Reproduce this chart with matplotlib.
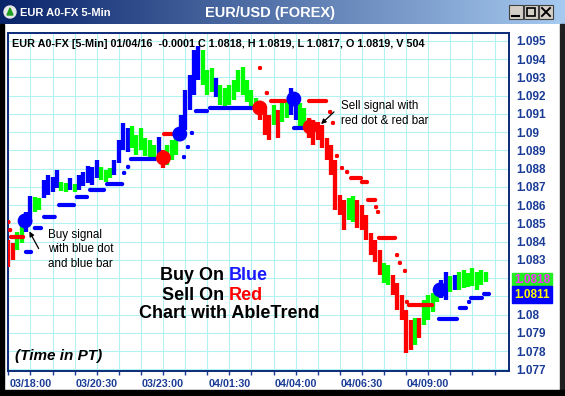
import numpy as np
import matplotlib.pyplot as plt
from matplotlib.colors import LinearSegmentedColormap
from matplotlib.patches import Rectangle, Circle, Polygon

plt.rcParams['font.family'] = ['Liberation Sans', 'DejaVu Sans']

# ---------- PRICE BARS (one entry per 10 minutes, x = 5-min bar index) ----------
bar_hi = [1.08410, 1.08393, 1.08453, 1.08492, 1.08563, 1.08651, 1.08645, 1.08640, 1.08738, 1.08766,
          1.08755, 1.08793, 1.08727, 1.08722, 1.08749, 1.08716, 1.08766, 1.08782, 1.08815, 1.08810,
          1.08848, 1.08810, 1.08793, 1.08804, 1.08848, 1.08958, 1.09051, 1.09023, 1.09034, 1.08985,
          1.09023, 1.08969, 1.08958, 1.08930, 1.08974, 1.08903, 1.08930, 1.08958, 1.08985, 1.09095,
          1.09232, 1.09314, 1.09451, 1.09473, 1.09451, 1.09341, 1.09352, 1.09297, 1.09259, 1.09242,
          1.09259, 1.09286, 1.09341, 1.09358, 1.09286, 1.09232, 1.09188, 1.09149, 1.09122, 1.09095,
          1.09149, 1.09122, 1.09160, 1.09177, 1.09242, 1.09215, 1.09160, 1.09133, 1.09078, 1.09067,
          1.09056, 1.09040, 1.08969, 1.08930, 1.08848, 1.08656, 1.08629, 1.08640, 1.08651, 1.08629,
          1.08601, 1.08547, 1.08448, 1.08410, 1.08355, 1.08284, 1.08273, 1.08218, 1.08174, 1.08108,
          1.08026, 1.07971, 1.07982, 1.07982, 1.08081, 1.08108, 1.08119, 1.08163, 1.08190, 1.08234,
          1.08212, 1.08218, 1.08234, 1.08245, 1.08229, 1.08256, 1.08234, 1.08245, 1.08234]
bar_lo = [1.08262, 1.08300, 1.08355, 1.08393, 1.08453, 1.08530, 1.08563, 1.08574, 1.08640, 1.08656,
          1.08673, 1.08695, 1.08678, 1.08673, 1.08684, 1.08673, 1.08684, 1.08705, 1.08722, 1.08711,
          1.08749, 1.08738, 1.08727, 1.08749, 1.08766, 1.08832, 1.08903, 1.08892, 1.08914, 1.08875,
          1.08903, 1.08870, 1.08859, 1.08848, 1.08837, 1.08804, 1.08821, 1.08848, 1.08875, 1.08958,
          1.09012, 1.09122, 1.09204, 1.09286, 1.09259, 1.09204, 1.09221, 1.09193, 1.09149, 1.09133,
          1.09149, 1.09177, 1.09221, 1.09204, 1.09166, 1.09138, 1.09122, 1.09067, 1.08985, 1.08958,
          1.09040, 1.08969, 1.09056, 1.09078, 1.09095, 1.09067, 1.09029, 1.09023, 1.08969, 1.08930,
          1.08958, 1.08914, 1.08848, 1.08766, 1.08574, 1.08547, 1.08464, 1.08519, 1.08508, 1.08475,
          1.08464, 1.08410, 1.08327, 1.08289, 1.08218, 1.08174, 1.08163, 1.08108, 1.08026, 1.07971,
          1.07791, 1.07807, 1.07834, 1.07873, 1.07944, 1.07971, 1.08015, 1.08070, 1.08092, 1.08081,
          1.08125, 1.08136, 1.08136, 1.08147, 1.08152, 1.08158, 1.08136, 1.08163, 1.08180]
bar_col = ("rrggbbggbb" "bbggbgbbbb" "bgggbbbbgg" "ggggbrgggb" "bbbbgggbgg"
           "gggggggrrr" "grggbbggrr" "rrrrrrrggr" "rrrrrggrrr" "rrgrggggbb" "gbggggggg")

# ---------- ABLETREND SIGNALS (big dots) ----------
sig_bar = [7.6, 70.2, 77.6, 113.8, 129.2, 136.6, 195.4]
sig_price = [1.08514, 1.08859, 1.08990, 1.09133, 1.09182, 1.09029, 1.08136]
sig_col = "brbrbrb"

# ---------- STOP DOTS (start bar, end bar, price) ----------
stop_start = [0, 0.8, 1.2, 8, 12, 16.2, 23, 31, 37, 44.7, 52.4, 54.2, 55.5, 70.5, 79.5, 81.3, 83.1,
              84.9, 91.3, 113.9, 117, 118.9, 129.3, 136.1, 145.6, 146.9, 148.7, 151, 153.3, 155.1,
              160, 162.8, 166.4, 167.3, 167.7, 175.9, 177.2, 179.5, 180.4, 181.3, 194.9, 204.3,
              208.5, 209.4, 215.3]
stop_end = [0, 0.8, 6.7, 10.3, 14.8, 21, 29.7, 35.6, 43.3, 51.5, 52.4, 54.2, 66.4, 75, 79.5, 81.3, 83.1,
            89.9, 110.3, 113.9, 117, 125.2, 133.3, 143.8, 145.6, 146.9, 148.7, 151, 153.3, 159.6,
            162.3, 166, 166.4, 167.3, 175, 175.9, 177.2, 179.5, 180.4, 191.7, 203, 207.1,
            208.5, 214.3, 217.5]
stop_price = [1.08508, 1.08464, 1.08426, 1.08344, 1.08475, 1.08536, 1.08601, 1.08645, 1.08684, 1.08716,
              1.08777, 1.08810, 1.08853, 1.08990, 1.08864, 1.08919, 1.08996, 1.09116, 1.09133,
              1.09352, 1.09215, 1.09171, 1.09023, 1.09171, 1.09111, 1.09051, 1.08870, 1.08804,
              1.08782, 1.08749, 1.08727, 1.08629, 1.08590, 1.08563, 1.08421, 1.08327, 1.08284,
              1.08240, 1.08070, 1.08053, 1.07977, 1.08037, 1.08070, 1.08092, 1.08114]
stop_col = "rrrbbbbbbbbbbrbbbbbrrrbrrrrrrrrrrrrrrrrrbbbbb"

# ---------- AXES LABELS ----------
x_minor = list(range(0, 221, 10))
x_major = [10, 40, 70, 100, 130, 160, 190]
x_labels = ["03/18:00", "03/20:30", "03/23:00", "04/01:30", "04/04:00", "04/06:30", "04/09:00"]
y_ticks = [1.077, 1.078, 1.079, 1.080, 1.081, 1.082, 1.083, 1.084, 1.085, 1.086,
           1.087, 1.088, 1.089, 1.090, 1.091, 1.092, 1.093, 1.094, 1.095]
y_labels = ["1.077", "1.078", "1.079", "1.08", "", "", "1.083", "1.084", "1.085", "1.086",
            "1.087", "1.088", "1.089", "1.09", "1.091", "1.092", "1.093", "1.094", "1.095"]

colors = {"b": "#0000ff", "g": "#00ff00", "r": "#ff0000"}
navy = "#1a3c96"

fig = plt.figure(figsize=(5.65, 3.96), dpi=100)
fig.patch.set_facecolor("white")

# window chrome in pixel coordinates
bg = fig.add_axes([0, 0, 1, 1], zorder=0)
bg.axis("off")
grad = LinearSegmentedColormap.from_list("title", ["#0a246a", "#a6caf0"])
bg.imshow(np.linspace(0, 1, 256)[None, :], cmap=grad, extent=(0, 565, 24, 0),
          aspect="auto", zorder=0)
bg.set_xlim(0, 565)
bg.set_ylim(396, 0)
bg.add_patch(Rectangle((0, 24), 4, 372, color="black"))
bg.add_patch(Rectangle((560, 24), 5, 372, color="#202020"))
bg.add_patch(Rectangle((0, 390), 565, 6, color="black"))
bg.add_patch(Circle((10, 12), 6, color="#e8e8e8"))
bg.add_patch(Polygon([(7, 15), (13, 15), (10, 8)], color="#20a020"))
bg.text(20, 12.5, "EUR A0-FX 5-Min", color="white", fontsize=8, fontweight="bold", va="center")
bg.text(270, 12.5, "EUR/USD (FOREX)", color="white", fontsize=10.5, fontweight="bold",
        ha="center", va="center")
for bx in [509, 524, 539]:
    bg.add_patch(Rectangle((bx, 5), 14, 14, facecolor="#d4d0c8", edgecolor="#404040", lw=0.8))
bg.plot([512, 519], [16, 16], color="black", lw=1.5)
bg.add_patch(Rectangle((527, 8), 8, 8, fill=False, edgecolor="black", lw=1.2))
bg.plot([542, 550], [8, 16], color="black", lw=1.4)
bg.plot([542, 550], [16, 8], color="black", lw=1.4)

# last price tags on the right
bg.add_patch(Rectangle((512, 273), 40, 13, color="#22ee22"))
bg.add_patch(Rectangle((512, 286), 40, 17, color="#0000ff"))
bg.text(532, 280, "1.0818", color="#ff30ff", fontsize=8.5, fontweight="bold", ha="center", va="center")
bg.text(532, 295, "1.0811", color="#ffff00", fontsize=8.5, fontweight="bold", ha="center", va="center")

# ---------- MAIN CHART ----------
ax = fig.add_axes([8 / 565, 25.5 / 396, 501 / 565, 337.5 / 396], zorder=1)
ax.set_facecolor("white")
ax.set_xlim(-0.14, 226.56)
ax.set_ylim(1.076945, 1.095438)

bar_x = np.arange(len(bar_hi)) * 2
ax.vlines(bar_x, bar_lo, bar_hi, colors=[colors[c] for c in bar_col], lw=3.1, zorder=3)

stop_c = [colors[c] for c in stop_col]
ax.hlines(stop_price, stop_start, stop_end, colors=stop_c, lw=3.0, zorder=4)
ax.scatter(stop_start, stop_price, s=9, c=stop_c, zorder=4, linewidths=0)
ax.scatter(stop_end, stop_price, s=9, c=stop_c, zorder=4, linewidths=0)

ax.scatter(sig_bar, sig_price, s=115, c=[colors[c] for c in sig_col], zorder=5, linewidths=0)

ax.set_xticks(x_minor, minor=True)
ax.set_xticks(x_major)
ax.set_xticklabels(x_labels)
ax.yaxis.tick_right()
ax.set_yticks(y_ticks)
ax.set_yticklabels(y_labels)
ax.tick_params(axis="x", which="both", length=3, width=1, color=navy, direction="out",
               pad=3, labelsize=7.7, labelcolor=navy)
ax.tick_params(axis="y", length=0, pad=5, labelsize=8.5, labelcolor=navy)
for lbl in ax.get_xticklabels() + ax.get_yticklabels():
    lbl.set_fontweight("bold")
ax.grid(True, which="both", color="#b4f2f2", lw=0.8)
ax.set_axisbelow(True)
for sp in ax.spines.values():
    sp.set_color("#0c2a78")
    sp.set_linewidth(1.4)

px = bg.transData
ax.text(12, 44, "EUR A0-FX [5-Min] 01/04/16  -0.0001 C 1.0818, H 1.0819, L 1.0817, O 1.0819, V 504",
        transform=px, fontsize=7.8, fontweight="bold", va="center", zorder=6)

ax.text(48, 235, "Buy signal", transform=px, fontsize=8.4, va="center", zorder=6)
ax.text(48, 249.5, "with blue dot", transform=px, fontsize=8.4, va="center", zorder=6)
ax.text(48, 264, "and blue bar", transform=px, fontsize=8.4, va="center", zorder=6)
ax.annotate("", xy=(28, 229), xytext=(40, 251), xycoords=px, textcoords=px,
            arrowprops=dict(arrowstyle="-|>", color="black", lw=0.9, mutation_scale=7), zorder=6)

ax.text(341, 106, "Sell signal with", transform=px, fontsize=8.4, va="center", zorder=6)
ax.text(341, 121, "red dot & red bar", transform=px, fontsize=8.4, va="center", zorder=6)
ax.annotate("", xy=(319, 126), xytext=(336, 110), xycoords=px, textcoords=px,
            arrowprops=dict(arrowstyle="-|>", color="black", lw=0.9, mutation_scale=7), zorder=6)

big = dict(transform=px, fontsize=13, fontweight="heavy", va="center", zorder=6)
ax.text(229, 276, "Buy On ", ha="right", **big)
ax.text(229, 276, "Blue", ha="left", color="#1a1aff", **big)
ax.text(229, 296, "Sell On ", ha="right", **big)
ax.text(229, 296, "Red", ha="left", color="#ff0000", **big)
ax.text(229.5, 314, "Chart with AbleTrend", ha="center", **big)
ax.text(15, 356, "(Time in PT)", transform=px, fontsize=11, fontweight="bold", style="italic",
        va="center", zorder=6)

plt.savefig("out.png", dpi=100)
